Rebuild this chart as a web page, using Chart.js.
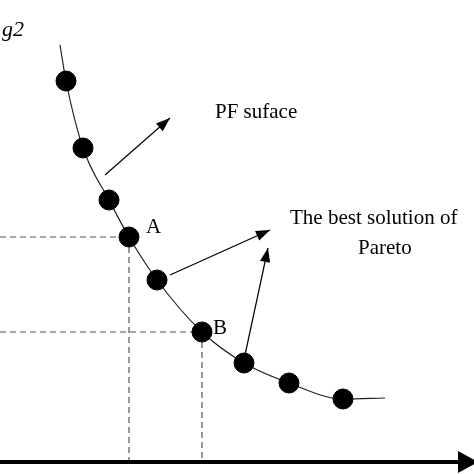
<!DOCTYPE html>
<html>
<head>
<meta charset="utf-8">
<script src="https://cdn.jsdelivr.net/npm/chart.js@4"></script>
<style>
  html, body { margin: 0; padding: 0; background: #fff; }
  #box { width: 474px; height: 474px; }
</style>
</head>
<body>
<div id="box"><canvas id="pf"></canvas></div>
<script>
// values in picture units (x right, y up from bottom)
const curveX = [60, 66, 83, 109, 129, 157, 202, 244, 289, 343, 385];
const curveY = [429, 393, 326, 274, 237, 194, 142, 111, 91, 75, 76];
const dotX = [66, 83, 109, 129, 157, 202, 244, 289, 343];
const dotY = [393, 326, 274, 237, 194, 142, 111, 91, 75];
const labelNames = ["A", "B"];
const labelIdx = [3, 5];
const arrows = [[105, 299, 170, 356], [170, 199, 270, 244], [245, 119, 268, 226]];
const notes = ["PF suface", "The best solution of", "Pareto"];
const notePos = [[215, 362], [290, 256], [358, 226]];

const overlay = {
  id: 'overlay',
  beforeDatasetsDraw(chart) {
    const {ctx, scales: {x, y}} = chart;
    ctx.save();
    ctx.strokeStyle = '#555';
    ctx.lineWidth = 1.2;
    ctx.setLineDash([6, 4]);
    labelIdx.forEach(i => {
      const px = x.getPixelForValue(dotX[i]), py = y.getPixelForValue(dotY[i]);
      ctx.beginPath();
      ctx.moveTo(0, py); ctx.lineTo(px, py);
      ctx.moveTo(px, py); ctx.lineTo(px, y.getPixelForValue(14));
      ctx.stroke();
    });
    ctx.restore();
  },
  afterDatasetsDraw(chart) {
    const {ctx, scales: {x, y}} = chart;
    ctx.save();
    ctx.fillStyle = '#000';
    ctx.strokeStyle = '#000';
    // bottom axis
    const ay = y.getPixelForValue(12);
    ctx.lineWidth = 4;
    ctx.beginPath(); ctx.moveTo(0, ay); ctx.lineTo(462, ay); ctx.stroke();
    ctx.beginPath(); ctx.moveTo(478, ay); ctx.lineTo(458, ay - 11); ctx.lineTo(458, ay + 11); ctx.closePath(); ctx.fill();
    // arrows
    ctx.lineWidth = 1.2;
    arrows.forEach(a => {
      const x1 = x.getPixelForValue(a[0]), y1 = y.getPixelForValue(a[1]);
      const x2 = x.getPixelForValue(a[2]), y2 = y.getPixelForValue(a[3]);
      const ang = Math.atan2(y2 - y1, x2 - x1);
      ctx.beginPath(); ctx.moveTo(x1, y1); ctx.lineTo(x2, y2); ctx.stroke();
      ctx.beginPath();
      ctx.moveTo(x2, y2);
      ctx.lineTo(x2 - 15 * Math.cos(ang - 0.35), y2 - 15 * Math.sin(ang - 0.35));
      ctx.lineTo(x2 - 15 * Math.cos(ang + 0.35), y2 - 15 * Math.sin(ang + 0.35));
      ctx.closePath(); ctx.fill();
    });
    // texts
    ctx.font = '21px "Liberation Serif"';
    ctx.textBaseline = 'middle';
    notes.forEach((t, i) => ctx.fillText(t, x.getPixelForValue(notePos[i][0]), y.getPixelForValue(notePos[i][1])));
    ctx.fillText(labelNames[0], x.getPixelForValue(dotX[3]) + 17, y.getPixelForValue(dotY[3]) - 10);
    ctx.fillText(labelNames[1], x.getPixelForValue(dotX[5]) + 11, y.getPixelForValue(dotY[5]) - 4);
    ctx.font = 'italic 22px "Liberation Serif"';
    ctx.fillText('g2', 2, 30);
    ctx.restore();
  }
};

new Chart(document.getElementById('pf'), {
  type: 'scatter',
  data: {
    datasets: [
      {
        data: dotX.map((v, i) => ({x: v, y: dotY[i]})),
        backgroundColor: '#000', borderColor: '#000',
        pointRadius: 10, pointHoverRadius: 10
      },
      {
        data: curveX.map((v, i) => ({x: v, y: curveY[i]})),
        showLine: true, borderColor: '#222', borderWidth: 1.2,
        pointRadius: 0, cubicInterpolationMode: 'monotone'
      }
    ]
  },
  options: {
    responsive: true, maintainAspectRatio: false, animation: false,
    layout: { padding: 0, autoPadding: false },
    plugins: { legend: { display: false }, tooltip: { enabled: false } },
    scales: {
      x: { type: 'linear', min: 0, max: 474, display: false },
      y: { type: 'linear', min: 0, max: 474, display: false }
    }
  },
  plugins: [overlay]
});
</script>
</body>
</html>
